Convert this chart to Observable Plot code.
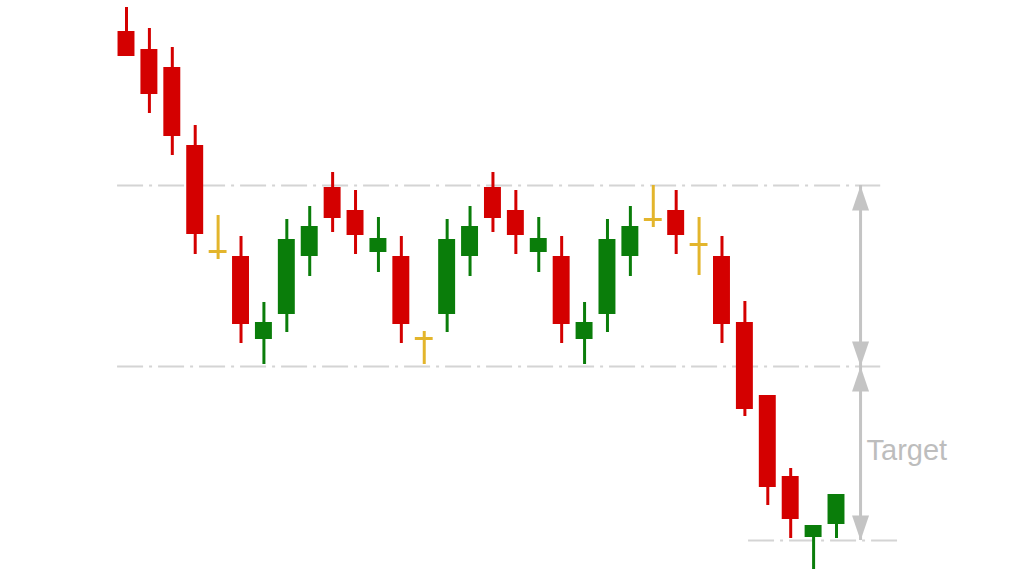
<!DOCTYPE html>
<html>
<head>
<meta charset="utf-8">
<script src="https://cdn.jsdelivr.net/npm/d3@7"></script>
<script src="https://cdn.jsdelivr.net/npm/@observablehq/plot@0.6"></script>
<style>
  html, body { margin: 0; padding: 0; background: #fff; }
  #chart svg { display: block; }
</style>
</head>
<body>
<div id="chart"></div>
<script>
// Candle series (price units, arbitrary)
const opens  = [569, 551, 533, 455, 349, 344, 261, 286, 344, 413, 390, 348, 344, 262, 286, 344, 413, 390, 348, 344, 261, 286, 344, 381, 390, 356, 344, 278, 205, 124, 63, 76];
const highs  = [593, 572, 553, 475, 385, 364, 298, 381, 394, 428, 410, 383, 364, 269, 381, 394, 428, 410, 383, 364, 298, 381, 394, 415, 410, 383, 364, 299, 205, 132, 75, 106];
const lows   = [544, 487, 445, 346, 341, 257, 236, 268, 324, 368, 346, 328, 257, 236, 268, 324, 368, 346, 328, 257, 236, 268, 324, 373, 346, 325, 257, 184, 95, 62, 31, 62];
const closes = [544, 506, 464, 366, 349, 276, 278, 361, 374, 382, 365, 362, 276, 262, 361, 374, 382, 365, 362, 276, 278, 361, 374, 381, 365, 356, 276, 191, 113, 81, 75, 106];
const kinds  = ["down","down","down","down","doji","down","up","up","up","down","down","up","down","doji","up","up","down","down","up","down","up","up","up","doji","down","doji","down","down","down","down","up","up"];

// Pattern levels (resistance, support, target)
const levelValues = [415, 234, 60];
const levelStarts = [-0.39, -0.39, 27.16];
const levelEnds   = [32.93, 32.93, 33.67];

// Measurement arrows
const arrowX = 32.05;
const arrowTips = [415, 234, 234, 60];
const arrowDirs = ["up", "down", "up", "down"];
const labelText = "Target";
const labelY = 150;

const colors = {down: "#d40000", up: "#0a7d0a", doji: "#e3b52c"};

const candles = opens.map((o, i) => ({
  i, open: o, high: highs[i], low: lows[i], close: closes[i], kind: kinds[i]
}));
const levels = levelValues.map((v, k) => ({v, x1: levelStarts[k], x2: levelEnds[k]}));
const arrows = arrowTips.map((t, k) => ({x: arrowX, y: t, dir: arrowDirs[k]}));

const half = 0.37;   // half body width in index units
const dojiHalf = 0.39;

const upHead = {draw(ctx) { ctx.moveTo(0, 0); ctx.lineTo(8.5, 25); ctx.lineTo(-8.5, 25); ctx.closePath(); }};
const downHead = {draw(ctx) { ctx.moveTo(0, 0); ctx.lineTo(8.5, -25); ctx.lineTo(-8.5, -25); ctx.closePath(); }};

const chart = Plot.plot({
  width: 1024,
  height: 577,
  marginLeft: 126,
  marginRight: 188,
  marginTop: 0,
  marginBottom: 0,
  x: {domain: [0, 31], axis: null},
  y: {domain: [23, 600], axis: null},
  style: {background: "#fff", overflow: "visible"},
  marks: [
    Plot.ruleY(levels, {y: "v", x1: "x1", x2: "x2", stroke: "#d4d4d4", strokeWidth: 2, strokeDasharray: "26,6,3,6"}),
    Plot.ruleX([arrowX], {x: d => d, y1: levelValues[0], y2: levelValues[2], stroke: "#c4c4c4", strokeWidth: 3}),
    Plot.dot(arrows.filter(d => d.dir === "up"), {x: "x", y: "y", symbol: upHead, r: 5, fill: "#c4c4c4", stroke: "none"}),
    Plot.dot(arrows.filter(d => d.dir === "down"), {x: "x", y: "y", symbol: downHead, r: 5, fill: "#c4c4c4", stroke: "none"}),
    Plot.text([labelText], {x: arrowX, y: labelY, text: d => d, dx: 6, textAnchor: "start", fill: "#bdbdbd", fontSize: 29, fontFamily: "Liberation Sans, Arial, sans-serif"}),
    Plot.ruleX(candles, {x: "i", y1: "low", y2: "high", stroke: d => colors[d.kind], strokeWidth: 3}),
    Plot.rect(candles.filter(d => d.kind !== "doji"), {
      x1: d => d.i - half, x2: d => d.i + half,
      y1: "open", y2: "close",
      fill: d => colors[d.kind]
    }),
    Plot.ruleY(candles.filter(d => d.kind === "doji"), {
      y: "open", x1: d => d.i - dojiHalf, x2: d => d.i + dojiHalf,
      stroke: d => colors[d.kind], strokeWidth: 3
    })
  ]
});
document.getElementById("chart").appendChild(chart);
</script>
</body>
</html>
